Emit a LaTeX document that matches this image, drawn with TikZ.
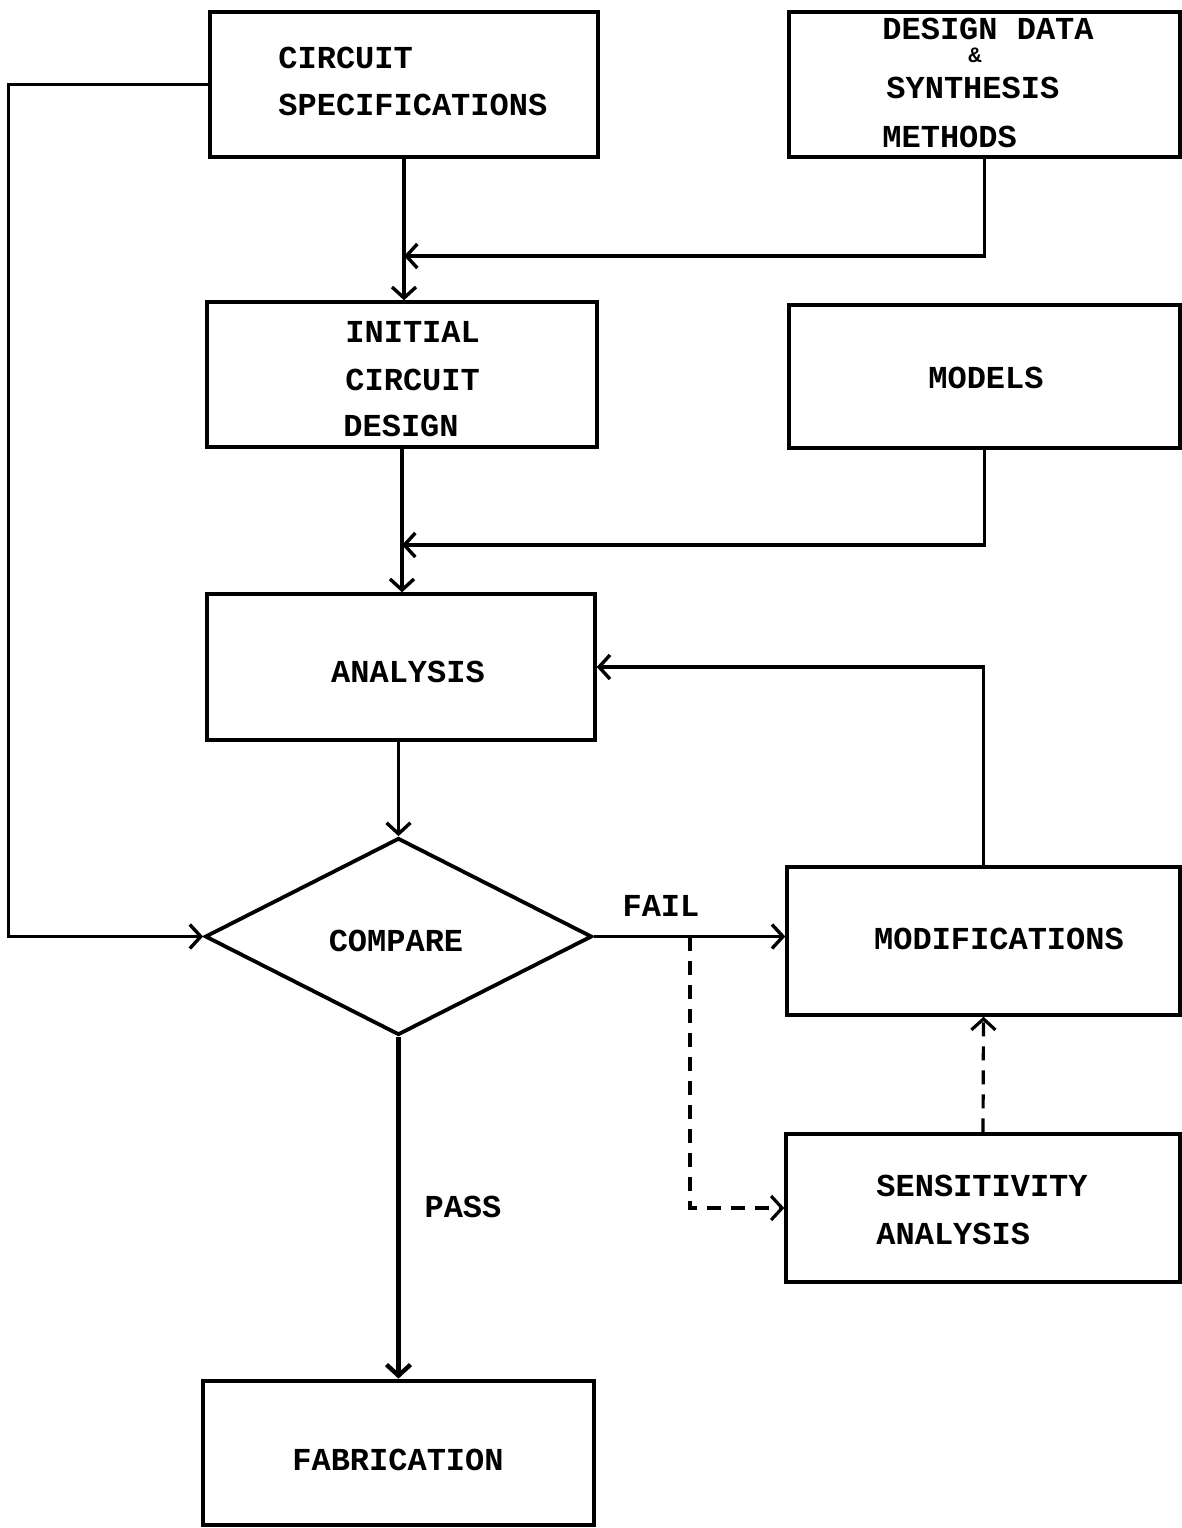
\documentclass[tikz,border=0pt]{standalone}
\usepackage{fontspec}
\setmainfont{Liberation Mono}
\usetikzlibrary{arrows.meta,shapes.geometric}
\tikzset{
  box/.style={draw, line width=1.7pt, inner sep=0pt},
  lbl/.style={inner sep=0pt, font=\fontsize{16}{19}\selectfont\bfseries},
  arr/.style={line width=1.7pt, -{Straight Barb[length=5.5pt,width=12pt,line width=1.7pt]}},
  dasharr/.style={line width=1.6pt, dash pattern=on 7pt off 5pt, -{Straight Barb[length=5.5pt,width=12pt,line width=1.6pt]}},
}
\begin{document}
\begin{tikzpicture}[x=0.5pt,y=-0.5pt]
\useasboundingbox (0,0) rectangle (1182,1528);
% boxes
\node[box, minimum width=194pt, minimum height=72.5pt] (spec) at (404,84.5) {};
\node[box, minimum width=195.5pt, minimum height=72.5pt] (dd) at (984.5,84.5) {};
\node[box, minimum width=195pt, minimum height=72.5pt] (init) at (402,374.5) {};
\node[box, minimum width=195.5pt, minimum height=71.5pt] (models) at (984.5,376.5) {};
\node[box, minimum width=194pt, minimum height=73pt] (ana) at (401,667) {};
\node[draw, diamond, line width=1.9pt, inner sep=0pt, minimum width=193.5pt, minimum height=98.5pt] (cmp) at (398.5,936.5) {};
\node[box, minimum width=196.5pt, minimum height=74pt] (mod) at (983.5,941) {};
\node[box, minimum width=197pt, minimum height=74pt] (sens) at (983,1208) {};
\node[box, line width=2.4pt, minimum width=195.5pt, minimum height=72pt] (fab) at (398.5,1453) {};
% texts
\node[lbl, anchor=west] (t1) at (278,58) {CIRCUIT};
\node[lbl, anchor=west] (t2) at (278,105) {SPECIFICATIONS};
\node[lbl, anchor=west] (t3) at (882,29) {DESIGN DATA};
\node[inner sep=0pt, font=\fontsize{11}{13}\selectfont\bfseries] (t4) at (975,55) {\&};
\node[lbl, anchor=west] (t5) at (886,88) {SYNTHESIS};
\node[lbl, anchor=west] (t6) at (882,137) {METHODS};
\node[lbl, anchor=west] (t7) at (345,332) {INITIAL};
\node[lbl, anchor=west] (t8) at (345,380) {CIRCUIT};
\node[lbl, anchor=west] (t9) at (343,426) {DESIGN};
\node[lbl] (t10) at (986,378) {MODELS};
\node[lbl] (t11) at (408,672) {ANALYSIS};
\node[lbl] (t12) at (396,941) {COMPARE};
\node[lbl] (t13) at (999,939) {MODIFICATIONS};
\node[lbl, anchor=west] (t14) at (876,1186) {SENSITIVITY};
\node[lbl, anchor=west] (t15) at (876,1234) {ANALYSIS};
\node[lbl] (t16) at (398,1460) {FABRICATION};
\node[lbl] (fail) at (661,906) {FAIL};
\node[lbl] (pass) at (463,1207) {PASS};
% junctions
\coordinate (j1) at (404,256);
\coordinate (j2) at (402,545);
\coordinate (fj) at (690,936.5);
% connectors
\draw[arr] (spec.south) -- (spec.south |- init.north);
\draw[arr] (dd.south) |- (j1);
\draw[arr] (init.south) -- (init.south |- ana.north);
\draw[arr] (models.south) |- (j2);
\draw[arr] (ana.south -| cmp.north) -- (cmp.north);
\draw[arr] (spec.west) -- ++(-200,0) |- (cmp.west);
\draw[arr] (cmp.east) -- (cmp.east -| mod.west);
\draw[dasharr] (fj) |- (sens.west);
\draw[dasharr] (sens.north) -- (mod.south);
\draw[arr] (mod.north) |- (ana.east);
\draw[line width=2.2pt, -{Straight Barb[length=5.5pt,width=12pt,line width=2.2pt]}] (cmp.south) -- (fab.north);
\end{tikzpicture}
\end{document}
